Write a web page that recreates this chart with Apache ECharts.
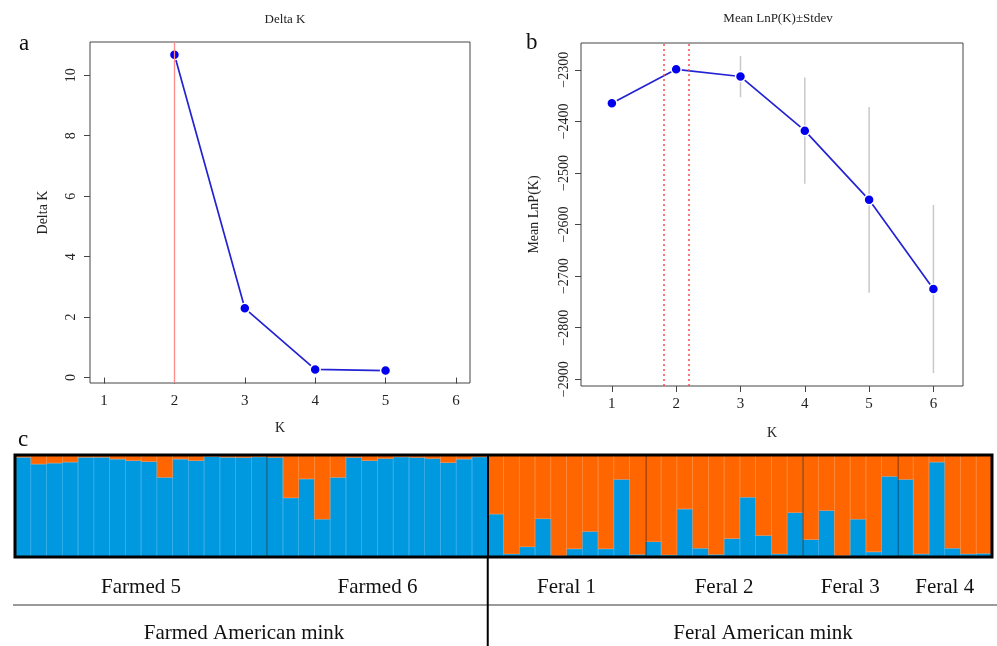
<!DOCTYPE html>
<html lang="en">
<head>
    <meta charset="UTF-8">
    <title>Structure K</title>
    <script src="https://cdn.jsdelivr.net/npm/echarts@6/dist/echarts.min.js"></script>
    <style>
        html, body { margin: 0; padding: 0; background: #fff; }
        #main { width: 997px; height: 646px; }
    </style>
</head>
<body>
    <div id="main"></div>
    <script>
        // a: Delta K
        var kDelta = [2, 3, 4, 5];
        var deltaK = [10.68, 2.29, 0.27, 0.23];
        // b: mean LnP(K) +- stdev
        var kMean = [1, 2, 3, 4, 5, 6];
        var meanLnP = [-2365, -2299, -2313, -2418, -2552, -2725];
        var sdLnP = [1.5, 2.5, 40, 103, 180, 163];
        var kTicks = [1, 2, 3, 4, 5, 6];
        var deltaTicks = [0, 2, 4, 6, 8, 10];
        var lnpTicks = [-2900, -2800, -2700, -2600, -2500, -2400, -2300];

        // c: admixture proportions (blue cluster) per individual, by population
        var popNames = ['Farmed 5', 'Farmed 6', 'Feral 1', 'Feral 2', 'Feral 3', 'Feral 4'];
        var farmed5 = [0.977, 0.91, 0.92, 0.93, 0.977, 0.977, 0.96, 0.945, 0.935, 0.78, 0.96, 0.945, 0.985, 0.977, 0.975, 0.98];
        var farmed6 = [0.975, 0.58, 0.765, 0.37, 0.78, 0.975, 0.945, 0.965, 0.98, 0.975, 0.965, 0.925, 0.96, 0.98];
        var feral1 = [0.42, 0.03, 0.10, 0.375, 0.013, 0.08, 0.25, 0.08, 0.76, 0.025];
        var feral2 = [0.15, 0.02, 0.47, 0.085, 0.025, 0.18, 0.585, 0.21, 0.03, 0.435];
        var feral3 = [0.17, 0.455, 0.015, 0.37, 0.05, 0.79];
        var feral4 = [0.76, 0.03, 0.93, 0.085, 0.03, 0.035];
        var groupNames = ['Farmed American mink', 'Feral American mink'];

        var pops = [farmed5, farmed6, feral1, feral2, feral3, feral4];
        var qBlue = [], qOrange = [], cats = [];
        var bounds = [], centers = [];
        var n = 0;
        pops.forEach(function (p) {
            centers.push(n + p.length / 2);
            p.forEach(function (q) {
                cats.push('i' + n);
                qBlue.push(q);
                qOrange.push(+(1 - q).toFixed(3));
                n++;
            });
            bounds.push(n);
        });
        bounds.pop();
        var farmedEnd = farmed5.length + farmed6.length;

        var serif = 'Liberation Serif';
        var cL = 15, cT = 455, cW = 977, cH = 102;
        var splitX = cL + farmedEnd / n * cW;
        var blue = '#0099e0', orange = '#ff6600';

        var myChart = echarts.init(document.getElementById('main'));

        var option = {
            backgroundColor: '#fff',
            animation: false,
            textStyle: { fontFamily: serif },
            title: [
                { text: 'Delta K', left: 280, top: 8, textAlign: 'center',
                  textStyle: { fontFamily: serif, fontSize: 13, fontWeight: 'normal', color: '#222' } },
                { text: 'Mean LnP(K)\u00b1Stdev', left: 773, top: 7, textAlign: 'center',
                  textStyle: { fontFamily: serif, fontSize: 13, fontWeight: 'normal', color: '#222' } },
                { text: 'a', left: 14, top: 27, textStyle: { fontFamily: serif, fontSize: 23, fontWeight: 'normal', color: '#111' } },
                { text: 'b', left: 521, top: 26, textStyle: { fontFamily: serif, fontSize: 23, fontWeight: 'normal', color: '#111' } },
                { text: 'c', left: 13, top: 423, textStyle: { fontFamily: serif, fontSize: 23, fontWeight: 'normal', color: '#111' } }
            ],
            grid: [
                { left: 90, top: 42, width: 380, height: 341, show: true, borderColor: '#444', borderWidth: 1 },
                { left: 581, top: 43, width: 382, height: 343, show: true, borderColor: '#444', borderWidth: 1 },
                { left: cL, top: cT, width: cW, height: cH, show: true, z: 5,
                  backgroundColor: 'transparent', borderColor: '#000', borderWidth: 3 }
            ],
            xAxis: [
                { type: 'value', gridIndex: 0, min: 0.8, max: 6.2,
                  name: 'K', nameLocation: 'middle', nameGap: 38,
                  nameTextStyle: { fontFamily: serif, fontSize: 14, color: '#222' },
                  axisLine: { show: false }, splitLine: { show: false },
                  axisTick: { customValues: kTicks, length: 6, lineStyle: { color: '#444' } },
                  axisLabel: { customValues: kTicks, margin: 11, fontFamily: serif, fontSize: 15, color: '#222' } },
                { type: 'value', gridIndex: 1, min: 0.52, max: 6.46,
                  name: 'K', nameLocation: 'middle', nameGap: 40,
                  nameTextStyle: { fontFamily: serif, fontSize: 14, color: '#222' },
                  axisLine: { show: false }, splitLine: { show: false },
                  axisTick: { customValues: kTicks, length: 6, lineStyle: { color: '#444' } },
                  axisLabel: { customValues: kTicks, margin: 11, fontFamily: serif, fontSize: 15, color: '#222' } },
                { type: 'category', gridIndex: 2, data: cats, show: false },
                { type: 'value', gridIndex: 2, min: 0, max: n, position: 'bottom',
                  axisLine: { show: false }, axisTick: { show: false }, splitLine: { show: false },
                  axisLabel: {
                      customValues: centers, margin: 20, fontFamily: serif, fontSize: 21, color: '#111',
                      formatter: function (v) {
                          var i = centers.indexOf(v);
                          return i >= 0 ? popNames[i] : '';
                      }
                  } }
            ],
            yAxis: [
                { type: 'value', gridIndex: 0, min: -0.18, max: 11.1,
                  name: 'Delta K', nameLocation: 'middle', nameGap: 40, nameRotate: 90,
                  nameTextStyle: { fontFamily: serif, fontSize: 14, color: '#222' },
                  axisLine: { show: false }, splitLine: { show: false },
                  axisTick: { customValues: deltaTicks, length: 6, lineStyle: { color: '#444' } },
                  axisLabel: { customValues: deltaTicks, rotate: 90, margin: 12, fontFamily: serif, fontSize: 14, color: '#222' } },
                { type: 'value', gridIndex: 1, min: -2913, max: -2248,
                  name: 'Mean LnP(K)', nameLocation: 'middle', nameGap: 40, nameRotate: 90,
                  nameTextStyle: { fontFamily: serif, fontSize: 14, color: '#222' },
                  axisLine: { show: false }, splitLine: { show: false },
                  axisTick: { customValues: lnpTicks, length: 6, lineStyle: { color: '#444' } },
                  axisLabel: { customValues: lnpTicks, rotate: 90, margin: 10, fontFamily: serif, fontSize: 14, color: '#222',
                               formatter: function (v) { return String(v).replace('-', '\u2212'); } } },
                { type: 'value', gridIndex: 2, min: 0, max: 1, show: false }
            ],
            series: [
                {
                    type: 'line', xAxisIndex: 0, yAxisIndex: 0,
                    data: kDelta.map(function (k, i) { return [k, deltaK[i]]; }),
                    symbol: 'circle', symbolSize: 10,
                    lineStyle: { color: '#2323d4', width: 1.7 },
                    itemStyle: { color: '#0000ee', borderColor: '#fff', borderWidth: 1.5 },
                    z: 4,
                    markLine: {
                        silent: true, symbol: 'none', label: { show: false },
                        lineStyle: { color: '#ff8a8a', type: 'solid', width: 1.3 },
                        data: [{ xAxis: kDelta[deltaK.indexOf(Math.max.apply(null, deltaK))] }]
                    }
                },
                {
                    type: 'custom', xAxisIndex: 1, yAxisIndex: 1,
                    data: kMean.map(function (k, i) { return [k, meanLnP[i], sdLnP[i]]; }),
                    renderItem: function (params, api) {
                        var x = api.value(0), m = api.value(1), s = api.value(2);
                        var a = api.coord([x, m + s]);
                        var b = api.coord([x, m - s]);
                        return { type: 'line', shape: { x1: a[0], y1: a[1], x2: b[0], y2: b[1] },
                                 style: { stroke: '#c9c9c9', lineWidth: 1.5 } };
                    },
                    z: 2
                },
                {
                    type: 'line', xAxisIndex: 1, yAxisIndex: 1,
                    data: kMean.map(function (k, i) { return [k, meanLnP[i]]; }),
                    symbol: 'circle', symbolSize: 10,
                    lineStyle: { color: '#2323d4', width: 1.7 },
                    itemStyle: { color: '#0000ee', borderColor: '#fff', borderWidth: 1.5 },
                    z: 4,
                    markLine: {
                        silent: true, symbol: 'none', label: { show: false },
                        lineStyle: { color: '#ff4a4a', type: [2, 3], width: 1.5 },
                        data: [{ xAxis: 1.8 }, { xAxis: 2.2 }]
                    }
                },
                {
                    type: 'bar', xAxisIndex: 2, yAxisIndex: 2, stack: 'q',
                    data: qBlue, barCategoryGap: 0, barGap: 0,
                    itemStyle: { color: blue, borderColor: blue, borderWidth: 0.6 }, z: 2
                },
                {
                    type: 'bar', xAxisIndex: 2, yAxisIndex: 2, stack: 'q',
                    data: qOrange, barCategoryGap: 0, barGap: 0,
                    itemStyle: { color: orange, borderColor: orange, borderWidth: 0.6 }, z: 2
                },
                {
                    type: 'line', xAxisIndex: 3, yAxisIndex: 2,
                    data: [[0, 0]], showSymbol: false, lineStyle: { opacity: 0 }, z: 3,
                    markLine: {
                        silent: true, symbol: 'none', label: { show: false },
                        data: bounds.map(function (b) {
                            return b === farmedEnd
                                ? { xAxis: b, lineStyle: { color: '#000', type: 'solid', width: 2 } }
                                : { xAxis: b, lineStyle: { color: 'rgba(0,0,0,0.4)', type: 'solid', width: 1.5 } };
                        })
                    }
                }
            ],
            graphic: [
                { type: 'line', shape: { x1: cL - 2, y1: 605, x2: 997, y2: 605 },
                  style: { stroke: '#9a9a9a', lineWidth: 2 } },
                { type: 'line', shape: { x1: splitX, y1: cT + cH, x2: splitX, y2: 646 },
                  style: { stroke: '#000', lineWidth: 2 } },
                { type: 'text', x: 244, y: 633,
                  style: { text: groupNames[0], font: '21px "Liberation Serif"', fill: '#111', align: 'center', verticalAlign: 'middle' } },
                { type: 'text', x: 763, y: 633,
                  style: { text: groupNames[1], font: '21px "Liberation Serif"', fill: '#111', align: 'center', verticalAlign: 'middle' } }
            ]
        };

        myChart.setOption(option);
    </script>
</body>
</html>
